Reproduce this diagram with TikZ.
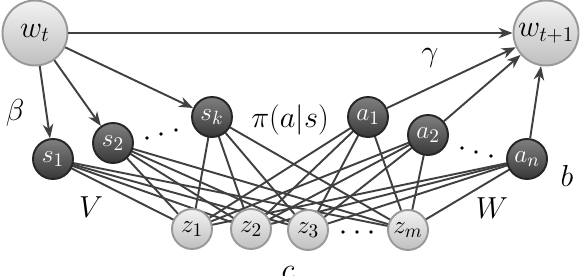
\documentclass[tikz,border=0pt]{standalone}
\usetikzlibrary{arrows.meta,shadings}
\begin{document}
\begin{tikzpicture}[x=0.02cm,y=-0.02cm,
  edge/.style={draw=black!75,line width=1.1pt},
  arr/.style={edge,-{Stealth[length=8pt,width=6pt,inset=2.5pt]}},
  lightshade/.style={circle,draw=black!40,line width=1.1pt,top color=black!5,bottom color=black!25,inner sep=0pt},
  bignode/.style={lightshade,minimum size=1.3cm,font=\fontsize{17}{20}\selectfont},
  lightnode/.style={lightshade,minimum size=0.8cm,font=\fontsize{15}{18}\selectfont},
  darknode/.style={circle,draw=black!85,line width=1.1pt,top color=black!50,bottom color=black!78,minimum size=0.8cm,inner sep=0pt,text=white,font=\fontsize{15}{18}\selectfont},
  lbl/.style={font=\fontsize{17}{20}\selectfont},
  dotmark/.style={fill=black}]
\useasboundingbox (0,0) rectangle (580,276);
% coordinates of node centres
\coordinate (pwt) at (35,33);
\coordinate (pwt1) at (546,33);
% bipartite edges drawn first (under the nodes)
\coordinate (cs1) at (53,159);
\coordinate (cs2) at (113,143);
\coordinate (csk) at (212,117);
\coordinate (ca1) at (368,117);
\coordinate (ca2) at (428,135);
\coordinate (can) at (527,159);
\coordinate (cz1) at (192,229);
\coordinate (cz2) at (251,229);
\coordinate (cz3) at (308,230);
\coordinate (czm) at (408,230);
\foreach \u in {cs1,cs2,csk,ca1,ca2,can}{
  \foreach \v in {cz1,cz2,cz3,czm}{
    \path[edge] (\u) -- (\v);
  }
}
% nodes
\node[bignode] (wt) at (pwt) {$w_t$};
\node[bignode] (wt1) at (pwt1) {$w_{t+1}$};
\node[darknode] (s1) at (cs1) {$s_1$};
\node[darknode] (s2) at (cs2) {$s_2$};
\node[darknode] (sk) at (csk) {$s_k$};
\node[darknode] (a1) at (ca1) {$a_1$};
\node[darknode] (a2) at (ca2) {$a_2$};
\node[darknode] (an) at (can) {$a_n$};
\node[lightnode] (z1) at (cz1) {$z_1$};
\node[lightnode] (z2) at (cz2) {$z_2$};
\node[lightnode] (z3) at (cz3) {$z_3$};
\node[lightnode] (zm) at (czm) {$z_m$};
% arrows
\draw[arr] (wt) -- (wt1);
\draw[arr] (wt) -- (s1);
\draw[arr] (wt) -- (s2);
\draw[arr] (wt) -- (sk);
\draw[arr] (a1) -- (wt1);
\draw[arr] (a2) -- (wt1);
\draw[arr] (an) -- (wt1);
% dots
\fill[dotmark] (147,138) circle (1.8);
\fill[dotmark] (161,134) circle (1.8);
\fill[dotmark] (176,130) circle (1.8);
\fill[dotmark] (462,148) circle (1.8);
\fill[dotmark] (476,152) circle (1.8);
\fill[dotmark] (491,156) circle (1.8);
\fill[dotmark] (343,232) circle (1.8);
\fill[dotmark] (357,232) circle (1.8);
\fill[dotmark] (371,232) circle (1.8);
% labels
\node[lbl] (beta) at (15,113) {$\beta$};
\node[lbl] (V) at (91,207) {$V$};
\node[lbl] (gamma) at (430,58) {$\gamma$};
\node[lbl] (pi) at (290,120) {$\pi(a|s)$};
\node[lbl] (b) at (567,176) {$b$};
\node[lbl] (W) at (492,208) {$W$};
\node[lbl] (c) at (288,273) {$c$};
\end{tikzpicture}
\end{document}
